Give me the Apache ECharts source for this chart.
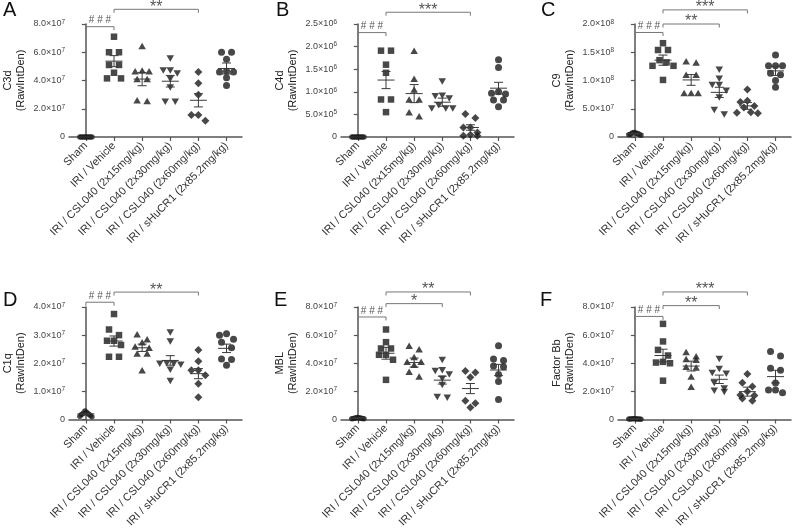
<!DOCTYPE html>
<html><head><meta charset="utf-8">
<script src="https://cdn.jsdelivr.net/npm/echarts@6/dist/echarts.min.js"></script>
<style>html,body{margin:0;padding:0;background:#fff}#c{width:792px;height:531px}</style>
</head><body><div id="c"></div><script>
const categories = ['Sham', 'IRI / Vehicle', 'IRI / CSL040 (2x15mg/kg)', 'IRI / CSL040 (2x30mg/kg)', 'IRI / CSL040 (2x60mg/kg)', 'IRI / sHuCR1 (2x85.2mg/kg)'];
const panelLetters = ['A', 'B', 'C', 'D', 'E', 'F'];
const yNames = ['C3d', 'C4d', 'C9', 'C1q', 'MBL', 'Factor Bb'];
const yUnits = [1e7, 1e6, 1e8, 1e7, 1e7, 1e7];
const yMaxes = [8, 2.5, 2.0, 4, 8, 8];        // in units above
const yIntervals = [2, 0.5, 0.5, 1, 2, 2];

// Panel A: C3d (x1e7)
const c3dGroups = [
  [0, 0, 0, 0, 0, 0, 0, 0],
  [7.1, 6.0, 6.0, 5.1, 5.1, 4.55, 4.15, 4.15],
  [6.45, 4.65, 4.7, 4.65, 4.1, 4.1, 2.6, 2.55],
  [5.55, 4.7, 4.7, 4.5, 4.1, 3.5, 2.5, 2.5],
  [4.6, 3.8, 3.0, 1.55, 1.55, 1.15],
  [6.0, 6.0, 5.5, 4.65, 4.6, 4.6, 4.2, 3.65]
];
const c3dMean = [0, 5.37, 4.1, 3.95, 2.6, 4.85];
const c3dSem = [0, 0.39, 0.47, 0.41, 0.47, 0.39];
const c3dSig = [[0, 1, 7.81, '# # #'], [1, 4, 9.04, '**']];

// Panel B: C4d (x1e6)
const c4dGroups = [
  [0, 0, 0, 0, 0, 0, 0, 0],
  [1.91, 1.91, 1.6, 1.42, 0.83, 0.83, 0.55],
  [1.91, 1.29, 1.05, 0.83, 0.83, 0.55, 0.46],
  [1.23, 0.91, 0.9, 0.85, 0.7, 0.63, 0.63, 0.63],
  [0.51, 0.42, 0.21, 0.21, 0.1, 0.05, 0.03, 0.03],
  [1.71, 1.54, 1.0, 0.97, 0.95, 0.82, 0.82, 0.67]
];
const c4dMean = [0, 1.26, 0.96, 0.77, 0.21, 1.08];
const c4dSem = [0, 0.19, 0.2, 0.09, 0.06, 0.13];
const c4dSig = [[0, 1, 2.31, '# # #'], [1, 4, 2.76, '***']];

// Panel C: C9 (x1e8)
const c9Groups = [
  [0.08, 0.07, 0.07, 0.06, 0.05, 0.05, 0.04, 0.03],
  [1.66, 1.54, 1.54, 1.36, 1.32, 1.26, 1.26, 1.01],
  [1.34, 1.32, 1.1, 1.1, 0.78, 0.78, 0.78],
  [1.19, 1.03, 0.92, 0.92, 0.82, 0.7, 0.48, 0.4],
  [0.84, 0.64, 0.62, 0.55, 0.52, 0.44, 0.43, 0.42],
  [1.45, 1.26, 1.26, 1.26, 1.13, 1.1, 1.0, 0.88]
];
const c9Mean = [0.06, 1.36, 1.01, 0.79, 0.55, 1.17];
const c9Sem = [0.01, 0.09, 0.095, 0.09, 0.06, 0.08];
const c9Sig = [[0, 1, 1.85, '# # #'], [1, 3, 2.0, '**'], [1, 4, 2.25, '***']];

// Panel D: C1q (x1e7)
const c1qGroups = [
  [0.3, 0.25, 0.22, 0.2, 0.18, 0.15, 0.12, 0.1],
  [3.75, 3.2, 3.0, 2.8, 2.8, 2.65, 2.23, 2.23],
  [3.03, 2.85, 2.75, 2.6, 2.55, 2.35, 2.35, 1.75],
  [3.09, 2.77, 2.0, 1.98, 1.98, 1.95, 1.77, 1.37],
  [2.47, 2.07, 1.75, 1.75, 1.57, 1.27, 0.79],
  [3.05, 3.0, 2.85, 2.75, 2.55, 2.15, 2.13, 1.93]
];
const c1qMean = [0.2, 2.79, 2.55, 2.1, 1.63, 2.53];
const c1qSem = [0.03, 0.18, 0.13, 0.17, 0.18, 0.15];
const c1qSig = [[0, 1, 4.17, '# # #'], [1, 4, 4.53, '**']];

// Panel E: MBL (x1e7)
const mblGroups = [
  [0.15, 0.12, 0.1, 0.1, 0.08, 0.08, 0.05, 0.05],
  [6.4, 5.5, 5.05, 5.05, 4.6, 4.6, 4.25, 2.82],
  [5.25, 5.0, 4.45, 4.1, 4.1, 3.9, 3.4, 3.05],
  [4.24, 3.5, 3.45, 3.2, 2.9, 2.45, 1.6, 1.55],
  [3.45, 3.35, 3.0, 1.33, 1.15, 0.85],
  [5.25, 4.3, 4.2, 3.8, 3.75, 3.2, 2.7, 1.43]
];
const mblMean = [0.1, 4.71, 4.05, 2.8, 2.2, 3.52];
const mblSem = [0.02, 0.42, 0.32, 0.28, 0.36, 0.4];
const mblSig = [[0, 1, 7.29, '# # #'], [1, 3, 8.24, '*'], [1, 4, 9.07, '**']];

// Panel F: Factor Bb (x1e7)
const bbGroups = [
  [0.06, 0.05, 0.05, 0.04, 0.04, 0.03, 0.03, 0.02],
  [6.8, 5.55, 4.95, 4.55, 4.1, 4.05, 4.0, 2.76],
  [4.8, 4.5, 4.3, 4.25, 3.75, 3.7, 3.05, 2.33],
  [4.3, 3.6, 3.3, 3.25, 2.6, 2.2, 2.05, 1.95],
  [3.24, 2.62, 2.35, 2.0, 1.74, 1.7, 1.5, 1.33],
  [4.83, 4.52, 3.64, 3.5, 2.6, 2.1, 2.1, 1.9]
];
const bbMean = [0.04, 4.55, 3.8, 2.86, 1.98, 3.05];
const bbSem = [0.01, 0.45, 0.35, 0.3, 0.32, 0.45];
const bbSig = [[0, 1, 7.33, '# # #'], [1, 3, 8.1, '**'], [1, 4, 9.07, '***']];

const allGroups = [c3dGroups, c4dGroups, c9Groups, c1qGroups, mblGroups, bbGroups];
const allMeans = [c3dMean, c4dMean, c9Mean, c1qMean, mblMean, bbMean];
const allSems = [c3dSem, c4dSem, c9Sem, c1qSem, mblSem, bbSem];
const allSigs = [c3dSig, c4dSig, c9Sig, c1qSig, mblSig, bbSig];

// ---- layout / style ----
const FONT = 'Liberation Sans, Arial, Helvetica, sans-serif';
const gridLefts = [69, 341, 618];
const gridTops = [24, 307];
const gridHeights = [113, 112.5];
const gridWidth = 173;
const xMin = -0.6, xMax = 5.55;
const pxPerX = gridWidth / (xMax - xMin);
const symbols = ['circle', 'rect', 'triangle', 'triangle', 'diamond', 'circle'];
const symbolSizes = [5.5, 6.5, [7.5, 6.5], [7.5, 6.5], [8, 8], 7];
const symbolRotates = [0, 0, 0, 180, 0, 0];
const letterPos = [[3, 0], [276, 0], [541, 0], [3, 290], [274, 290], [540, 290]];

function swarmOffsets(vals, pxPerVal) {
  const pts = vals.map((v, k) => ({k, y: v * pxPerVal}));
  const sorted = pts.slice().sort((a, b) => b.y - a.y);
  const out = new Array(vals.length).fill(0);
  let i = 0;
  while (i < sorted.length) {
    const row = [sorted[i]];
    let j = i + 1;
    while (j < sorted.length && sorted[i].y - sorted[j].y < 6) { row.push(sorted[j]); j++; }
    const n = row.length;
    const s = n === 2 ? 10 : (n >= 6 ? 12 / (n - 1) : 7);
    const slots = [];
    if (n % 2 === 1) { slots.push(0); for (let q = 1; slots.length < n; q++) { slots.push(-q, q); } }
    else { for (let q = 0.5; slots.length < n; q++) { slots.push(-q, q); } }
    row.forEach((p, idx) => { out[p.k] = slots[idx] * s; });
    i = j;
  }
  return out;
}

function yFmt(unit) {
  return function (v) {
    if (v === 0) return '0';
    const val = v * unit;
    const e = Math.floor(Math.log10(val) + 1e-9);
    const m = (val / Math.pow(10, e)).toFixed(1);
    return '{m|' + m + '×10}{e|' + e + '}';
  };
}

const grids = [], xAxes = [], yAxes = [], series = [], graphics = [];
for (let p = 0; p < 6; p++) {
  const row = p < 3 ? 0 : 1, col = p % 3;
  grids.push({left: gridLefts[col], top: gridTops[row], width: gridWidth, height: gridHeights[row], containLabel: false});
  xAxes.push({
    type: 'value', gridIndex: p, min: xMin, max: xMax,
    axisLine: {show: true, onZero: false, lineStyle: {color: '#555', width: 1.5}},
    axisTick: {show: true, customValues: [0, 1, 2, 3, 4, 5], length: 4, lineStyle: {color: '#555', width: 1.2}},
    axisLabel: {show: true, customValues: [0, 1, 2, 3, 4, 5], rotate: 45, margin: 7, fontSize: 11, color: '#333', fontFamily: FONT,
      formatter: v => categories[Math.round(v)]},
    splitLine: {show: false}
  });
  yAxes.push({
    type: 'value', gridIndex: p, min: 0, max: yMaxes[p], interval: yIntervals[p],
    name: yNames[p] + '\n(RawIntDen)', nameLocation: 'middle', nameGap: 42,
    nameTextStyle: {fontSize: 11, color: '#222', fontFamily: FONT, lineHeight: 13},
    axisLine: {show: true, lineStyle: {color: '#555', width: 1.5}},
    axisTick: {show: true, length: 4, lineStyle: {color: '#555', width: 1.2}},
    axisLabel: {margin: 4, formatter: yFmt(yUnits[p]), fontSize: 9, color: '#444', fontFamily: FONT,
      rich: {m: {fontSize: 9, color: '#444', fontFamily: FONT, lineHeight: 11},
             e: {fontSize: 6.5, color: '#444', fontFamily: FONT, verticalAlign: 'top', lineHeight: 8}}},
    splitLine: {show: false}
  });
  const pxPerVal = gridHeights[row] / yMaxes[p];
  allGroups[p].forEach((vals, g) => {
    const offs = swarmOffsets(vals, pxPerVal);
    series.push({
      type: 'scatter', xAxisIndex: p, yAxisIndex: p, silent: true, clip: false, z: 2,
      symbol: symbols[g], symbolSize: symbolSizes[g], symbolRotate: symbolRotates[g],
      itemStyle: {color: '#1a1a1a'},
      data: vals.map((v, k) => [g + offs[k] / pxPerX, v])
    });
  });
  const means = allMeans[p], sems = allSems[p];
  series.push({
    type: 'custom', xAxisIndex: p, yAxisIndex: p, silent: true, z: 3,
    data: means.map((m, i) => [i, m, sems[i]]),
    renderItem: (params, api) => {
      const i = api.value(0), m = api.value(1), s = api.value(2);
      const pm = api.coord([i, m]);
      const st = {stroke: '#3a3a3a', lineWidth: 1};
      const ch = [{type: 'line', shape: {x1: pm[0] - 8.5, y1: pm[1], x2: pm[0] + 8.5, y2: pm[1]}, style: st}];
      if (s > 0) {
        const pt = api.coord([i, m + s]), pb = api.coord([i, m - s]);
        ch.push({type: 'line', shape: {x1: pm[0], y1: pt[1], x2: pm[0], y2: pb[1]}, style: st});
        ch.push({type: 'line', shape: {x1: pm[0] - 4.5, y1: pt[1], x2: pm[0] + 4.5, y2: pt[1]}, style: st});
        ch.push({type: 'line', shape: {x1: pm[0] - 4.5, y1: pb[1], x2: pm[0] + 4.5, y2: pb[1]}, style: st});
      }
      return {type: 'group', children: ch};
    }
  });
  const sig = allSigs[p];
  series.push({
    type: 'custom', xAxisIndex: p, yAxisIndex: p, silent: true, z: 4, clip: false,
    data: sig.map(s => [s[0], s[1], s[2]]),
    renderItem: (params, api) => {
      const a = api.coord([api.value(0), api.value(2)]);
      const b = api.coord([api.value(1), api.value(2)]);
      const lab = sig[params.dataIndex][3];
      const star = lab.indexOf('*') >= 0;
      return {type: 'group', children: [
        {type: 'polyline', shape: {points: [[a[0], a[1] + 3.5], [a[0], a[1]], [b[0], b[1]], [b[0], b[1] + 3.5]]},
          style: {stroke: '#777', lineWidth: 1, fill: null}},
        {type: 'text', style: {text: lab, x: (a[0] + b[0]) / 2, y: star ? a[1] - 2 : a[1] - 6,
          align: 'center', verticalAlign: 'middle', fontSize: star ? 16 : 10, fontFamily: FONT, fill: '#555'}}
      ]};
    }
  });
  graphics.push({type: 'text', left: letterPos[p][0], top: letterPos[p][1],
    style: {text: panelLetters[p], fontSize: 20, fontFamily: FONT, fill: '#111'}});
}

const chart = echarts.init(document.getElementById('c'), null, {renderer: 'canvas'});
chart.setOption({
  animation: false,
  backgroundColor: '#fff',
  textStyle: {fontFamily: FONT},
  grid: grids, xAxis: xAxes, yAxis: yAxes, series: series, graphic: graphics
});
</script></body></html>
